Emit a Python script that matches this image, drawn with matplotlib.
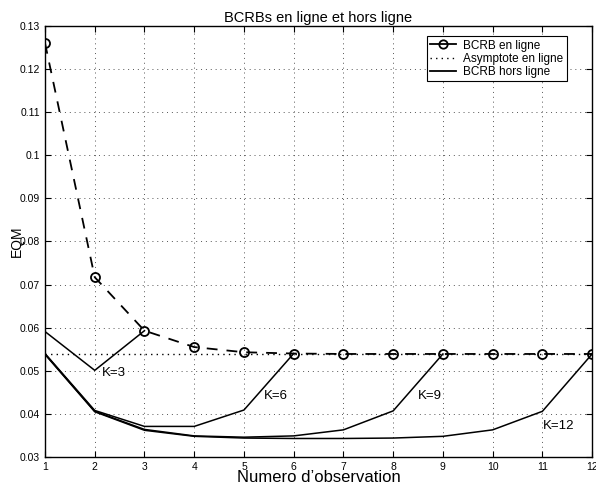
import numpy as np
import matplotlib
matplotlib.use("Agg")
import matplotlib.pyplot as plt
from matplotlib.lines import Line2D

plt.rcParams['font.family'] = ['Liberation Sans', 'DejaVu Sans']

# online bound
obs = [1, 2, 3, 4, 5, 6, 7, 8, 9, 10, 11, 12]
online = [0.1260, 0.0717, 0.0593, 0.0555, 0.0543, 0.0540, 0.0539, 0.0539, 0.0539, 0.0539, 0.0539, 0.0539]
asymptote = 0.0539

# offline bounds for several horizons K
off_k3 = [0.0591, 0.0501, 0.0593]
off_k6 = [0.0540, 0.0408, 0.0371, 0.0371, 0.0409, 0.0540]
off_k9 = [0.0539, 0.0406, 0.0364, 0.0349, 0.0346, 0.0349, 0.0363, 0.0407, 0.0539]
off_k12 = [0.0538, 0.0405, 0.0362, 0.0348, 0.0344, 0.0343, 0.0343, 0.0344, 0.0348, 0.0363, 0.0406, 0.0539]
k_labels = ["K=3", "K=6", "K=9", "K=12"]
k_label_pos = [(2.15, 0.0495), (5.4, 0.0442), (8.5, 0.0442), (11.0, 0.0373)]

fig = plt.figure(figsize=(5.96, 4.9), dpi=100)
ax = fig.add_axes([0.0755, 0.0673, 0.918, 0.88])

ax.plot(obs, [asymptote] * len(obs), color='k', lw=1.0, ls=(0, (1, 3)))
ax.plot(obs, online, color='k', lw=1.3, ls=(0, (6, 5)), marker='o', ms=6.5,
        mfc='none', mec='k', mew=1.3)
for off in [off_k3, off_k6, off_k9, off_k12]:
    ax.plot(obs[:len(off)], off, color='k', lw=1.1)
for lab, (tx, ty) in zip(k_labels, k_label_pos):
    ax.text(tx, ty, lab, fontsize=9.5, va='center', ha='left')

ax.set_xlim(1, 12)
ax.set_ylim(0.03, 0.13)
ax.set_xticks(obs)
ax.set_yticks(np.arange(0.03, 0.1301, 0.01))
ax.set_yticklabels(["0.03", "0.04", "0.05", "0.06", "0.07", "0.08", "0.09", "0.1", "0.11", "0.12", "0.13"])
ax.tick_params(direction='in', top=True, right=True, labelsize=7.5, length=4, width=0.8)
ax.grid(True, color='#555555', ls=(0, (1, 4)), lw=0.7)
for s in ax.spines.values():
    s.set_linewidth(1.0)

ax.set_title("BCRBs en ligne et hors ligne", fontsize=10.5, pad=3)
ax.set_xlabel("Numero d\u2019observation", fontsize=12, labelpad=-1)
ax.set_ylabel("EQM", fontsize=10, labelpad=-3)

handles = [Line2D([], [], color='k', lw=1.3, marker='o', ms=6, mfc='none', mew=1.3),
           Line2D([], [], color='k', lw=1.0, ls=(0, (1, 3))),
           Line2D([], [], color='k', lw=1.3)]
leg = ax.legend(handles, ["BCRB en ligne", "Asymptote en ligne", "BCRB hors ligne"],
                loc='upper right', bbox_to_anchor=(0.965, 0.99), fontsize=8.5,
                fancybox=False, framealpha=1, edgecolor='k', handlelength=2.2,
                borderpad=0.3, labelspacing=0.1, handletextpad=0.6)
leg.get_frame().set_linewidth(0.8)

fig.savefig("out.png", dpi=100)
